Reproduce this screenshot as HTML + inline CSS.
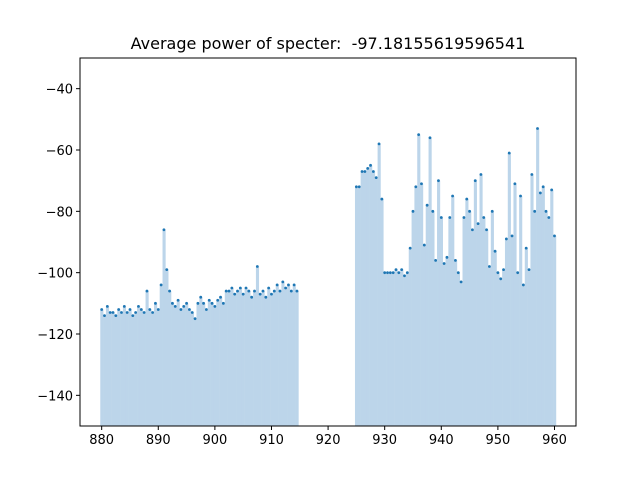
<!DOCTYPE html>
<html><head><meta charset="utf-8"><style>
body{margin:0;background:#fff}
svg text{font-family:"DejaVu Sans","Liberation Sans",sans-serif;fill:#000}
</style></head><body>
<svg id="chart" width="640" height="480" viewBox="0 0 640 480" xmlns="http://www.w3.org/2000/svg">
<rect width="640" height="480" fill="#fff"/>
<text x="328" y="49" font-size="16" text-anchor="middle">Average power of specter: &#160;-97.18155619596541</text>
<g id="bars"></g><g id="dots"></g>
<rect x="80" y="58" width="496" height="368" fill="none" stroke="#000" stroke-width="1"/>
<g id="axes"></g>
</svg>
<script>
const xTicks=[880,890,900,910,920,930,940,950,960];
const yTicks=[-40,-60,-80,-100,-120,-140];
const seg1Start=880, seg2Start=925, step=0.5;
const seg1Values=[-112,-114,-111,-113,-113,-114,-112,-113,-111,-113,-112,-114,-113,-111,-112,-113,-106,-112,-113,-110,-112,-104,-86,-99,-106,-110,-111,-109,-112,-111,-110,-112,-113,-115,-110,-108,-110,-112,-109,-110,-111,-109,-108,-110,-106,-106,-105,-107,-106,-105,-107,-105,-106,-108,-106,-98,-107,-106,-108,-105,-107,-106,-104,-106,-103,-105,-104,-106,-104,-106];
const seg2Values=[-72,-72,-67,-67,-66,-65,-67,-69,-58,-76,-100,-100,-100,-100,-99,-100,-99,-101,-100,-92,-80,-72,-55,-71,-91,-78,-56,-80,-96,-70,-82,-97,-95,-82,-75,-96,-100,-103,-82,-76,-80,-86,-70,-84,-68,-82,-86,-98,-80,-93,-100,-102,-99,-89,-61,-88,-71,-100,-75,-104,-92,-99,-68,-80,-53,-74,-72,-80,-82,-73,-88];
const X0=876.17,X1=963.8,PL=80,PR=576,Y0=-150,Y1=-30,PT=58,PB=426;
const sx=v=>PL+(v-X0)/(X1-X0)*(PR-PL);
const sy=v=>PB-(v-Y0)/(Y1-Y0)*(PB-PT);
const NS='http://www.w3.org/2000/svg';
const bars=document.getElementById('bars'),dots=document.getElementById('dots'),axes=document.getElementById('axes');
function mk(t,a,p){const e=document.createElementNS(NS,t);for(const k in a)e.setAttribute(k,a[k]);p.appendChild(e);return e;}
function drawSeg(start,vals){
  const w=sx(step)-sx(0);
  vals.forEach((v,i)=>{
    const f=start+i*step;
    const b=mk('rect',{x:sx(f)-w/2,y:sy(v),width:w+0.3,height:PB-sy(v),fill:'#bcd5ea'},bars);
    
    
    const d=mk('circle',{cx:sx(f),cy:sy(v),r:1.4,fill:'#1f77b4'},dots);
    
    
  });
}
drawSeg(seg1Start,seg1Values);
drawSeg(seg2Start,seg2Values);
xTicks.forEach(t=>{
  const x=sx(t);
  const l=mk('line',{x1:x,x2:x,y1:PB,y2:PB+4,stroke:'#000'},axes);
  
  
  const tx=mk('text',{x:x,y:PB+18,'font-size':13,'text-anchor':'middle'},axes);
  tx.textContent=t;
  
  
});
yTicks.forEach(t=>{
  const y=sy(t);
  const l=mk('line',{x1:PL-4,x2:PL,y1:y,y2:y,stroke:'#000'},axes);
  
  
  const tx=mk('text',{x:PL-7,y:y+5,'font-size':13,'text-anchor':'end'},axes);
  tx.textContent='\u2212'+Math.abs(t);
  
  
});
</script>
</body></html>
